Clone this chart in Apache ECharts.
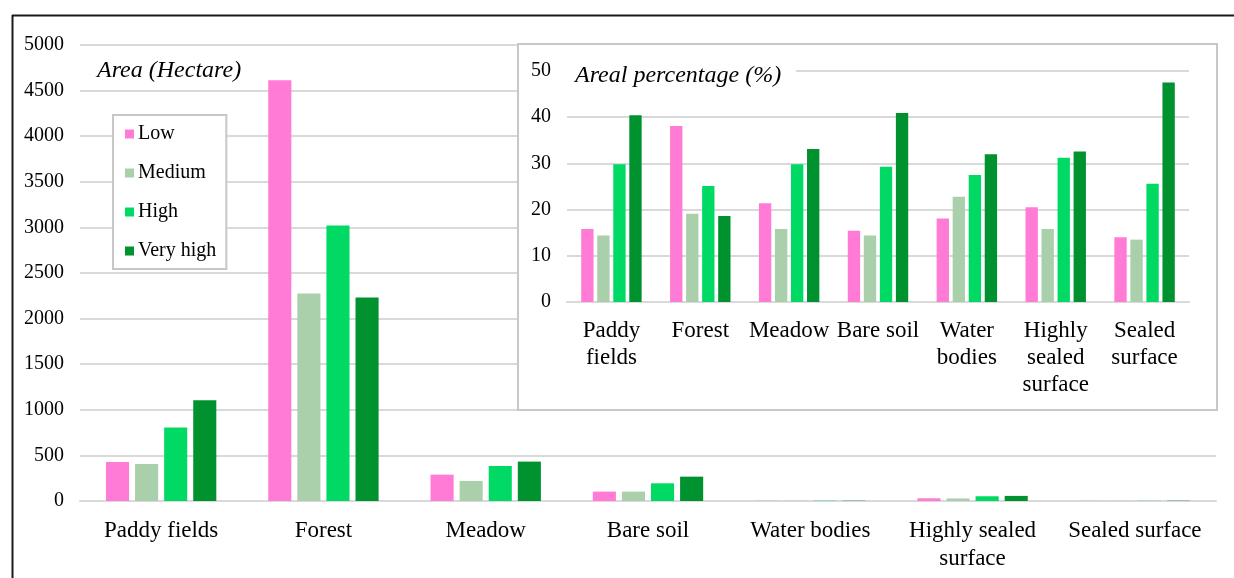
<!DOCTYPE html>
<html>
<head>
<meta charset="utf-8">
<script src="https://cdn.jsdelivr.net/npm/echarts@6/dist/echarts.min.js"></script>
<style>
html,body{margin:0;padding:0;background:#fff;}
#chart{width:1234px;height:578px;}
</style>
</head>
<body>
<div id="chart"></div>
<script>
// ---- Data ----
const categories = ['Paddy fields', 'Forest', 'Meadow', 'Bare soil', 'Water bodies', 'Highly sealed\nsurface', 'Sealed surface'];
const insetCategories = ['Paddy\nfields', 'Forest', 'Meadow', 'Bare soil', 'Water\nbodies', 'Highly\nsealed\nsurface', 'Sealed\nsurface'];
const seriesNames = ['Low', 'Medium', 'High', 'Very high'];

// Area (Hectare)
const areaLow      = [428, 4613, 289, 103, 2, 30, 1];
const areaMedium   = [406, 2276, 220, 103, 3, 28, 1];
const areaHigh     = [805, 3022, 384, 194, 3, 52, 2];
const areaVeryHigh = [1105, 2232, 432, 267, 3, 56, 3];

// Areal percentage (%)
const pctLow      = [15.8, 38.1, 21.4, 15.4, 18.1, 20.5, 14.0];
const pctMedium   = [14.4, 19.1, 15.8, 14.4, 22.8, 15.8, 13.5];
const pctHigh     = [29.8, 25.1, 29.8, 29.3, 27.5, 31.2, 25.6];
const pctVeryHigh = [40.4, 18.6, 33.1, 40.9, 32.0, 32.6, 47.5];

const areaAxisTicks = { min: 0, max: 5000, interval: 500 };
const pctAxisTicks = { min: 0, max: 50, interval: 10 };

// ---- Styles ----
const colors = ['#FF7BD5', '#A9D0AA', '#00DA65', '#00922E'];
const FONT = '"Liberation Serif", "Times New Roman", serif';
const gridColor = '#d9d9d9';

const areaData = [areaLow, areaMedium, areaHigh, areaVeryHigh];
const pctData = [pctLow, pctMedium, pctHigh, pctVeryHigh];

const series = [];
seriesNames.forEach((n, i) => {
  series.push({
    name: n, type: 'bar', xAxisIndex: 0, yAxisIndex: 0,
    data: areaData[i], barGap: '26%', barCategoryGap: '32%',
    itemStyle: { color: colors[i] }, z: 2
  });
});
seriesNames.forEach((n, i) => {
  series.push({
    name: n, type: 'bar', xAxisIndex: 1, yAxisIndex: 1,
    data: pctData[i], barGap: '30%', barCategoryGap: '32%',
    itemStyle: { color: colors[i] }, z: 10
  });
});

const plain = v => String(v);

const chart = echarts.init(document.getElementById('chart'), null, { renderer: 'canvas' });
chart.setOption({
  animation: false,
  color: colors,
  textStyle: { fontFamily: FONT, color: '#000' },
  title: [
    { text: 'Area (Hectare)', left: 97, top: 59, padding: 0,
      textStyle: { fontFamily: FONT, fontStyle: 'italic', fontWeight: 'normal', fontSize: 24, color: '#000' } },
    { text: 'Areal percentage (%)', left: 567, top: 64, padding: [0, 15, 0, 8], backgroundColor: '#fff', z: 12,
      textStyle: { fontFamily: FONT, fontStyle: 'italic', fontWeight: 'normal', fontSize: 24, color: '#000' } }
  ],
  legend: {
    data: seriesNames, orient: 'vertical', left: 113, top: 115,
    padding: [9, 10, 8, 12], itemGap: 19, itemWidth: 9, itemHeight: 9, itemStyle: { borderWidth: 0 },
    borderColor: '#c8c8c8', borderWidth: 2, backgroundColor: '#fff',
    icon: 'rect',
    textStyle: { fontFamily: FONT, fontSize: 20, color: '#000', padding: [0, 0, 0, -1] }
  },
  grid: [
    { left: 80, right: 18, top: 45, bottom: 77 },
    { left: 567, right: 45, top: 71, bottom: 276 }
  ],
  xAxis: [
    { type: 'category', gridIndex: 0, data: categories,
      axisLine: { lineStyle: { color: gridColor, width: 2 } }, axisTick: { show: false },
      axisLabel: { interval: 0, fontFamily: FONT, fontSize: 23, color: '#000', margin: 16, lineHeight: 28 } },
    { type: 'category', gridIndex: 1, data: insetCategories, z: 10,
      axisLine: { lineStyle: { color: gridColor, width: 2 } }, axisTick: { show: false },
      axisLabel: { interval: 0, fontFamily: FONT, fontSize: 23, color: '#000', margin: 15, lineHeight: 27 } }
  ],
  yAxis: [
    { type: 'value', gridIndex: 0, min: areaAxisTicks.min, max: areaAxisTicks.max, interval: areaAxisTicks.interval,
      axisLine: { show: false }, axisTick: { show: false },
      splitLine: { lineStyle: { color: gridColor, width: 2 } },
      axisLabel: { fontFamily: FONT, fontSize: 20, color: '#000', margin: 16, formatter: plain } },
    { type: 'value', gridIndex: 1, min: pctAxisTicks.min, max: pctAxisTicks.max, interval: pctAxisTicks.interval, z: 10,
      axisLine: { show: false }, axisTick: { show: false },
      splitLine: { lineStyle: { color: gridColor, width: 2 } },
      axisLabel: { fontFamily: FONT, fontSize: 20, color: '#000', margin: 16, formatter: plain } }
  ],
  graphic: [
    { type: 'line', z: 20, shape: { x1: 12, y1: 15.5, x2: 1234, y2: 15.5 }, style: { stroke: '#1a1a1a', lineWidth: 2 } },
    { type: 'line', z: 20, shape: { x1: 12.5, y1: 15, x2: 12.5, y2: 578 }, style: { stroke: '#1a1a1a', lineWidth: 2 } },
    { type: 'rect', z: 5, shape: { x: 518, y: 44, width: 699, height: 366 }, style: { fill: '#fff', stroke: '#c8c8c8', lineWidth: 2 } }
  ],
  series: series
});
</script>
</body>
</html>
